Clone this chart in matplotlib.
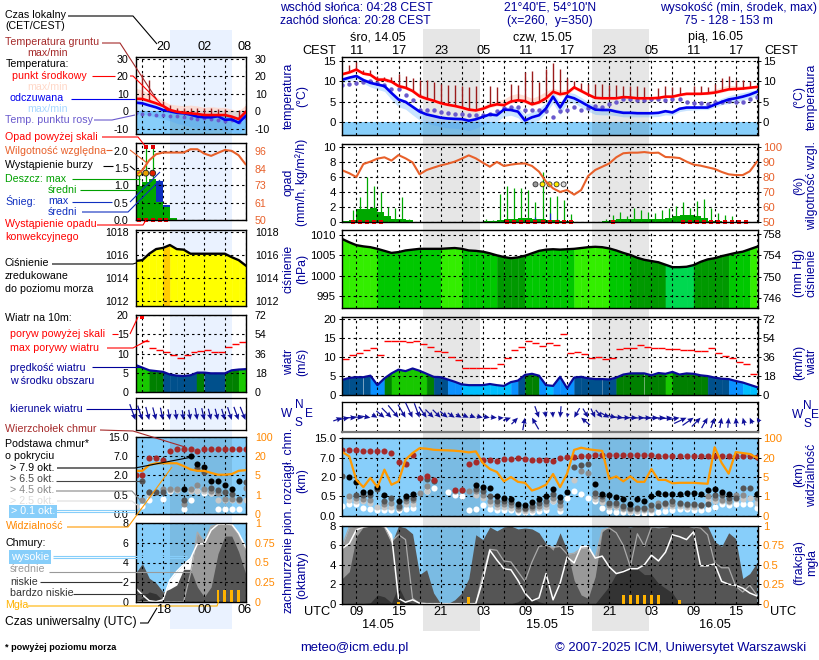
"""Meteogram ICM (UM 4 km) - 60 h panel plus the small legend panel on the left."""
import numpy as np
import matplotlib
matplotlib.use("Agg")
import matplotlib.pyplot as plt
from matplotlib.patches import Rectangle

plt.rcParams["font.family"] = ["Liberation Sans", "DejaVu Sans"]
plt.rcParams["font.size"] = 8.7

nan = np.nan
W, H = 820, 660

# ---- main panel, hourly 07 UTC 14.05 ... 18 UTC 16.05 ----
hours = np.arange(7, 67)
night_start = [18.5, 42.5]
night_end = [26.6, 50.6]

temp_mid = [11.75, 12.2, 12.9, 11.9, 11.6, 10.4, 10.4, 9.9, 8.8, 8.4, 7.6, 6.3, 5.7, 5.2, 4.6, 4.2, 3.9, 3.5, 3.0, 2.8,
            3.2, 3.9, 4.3, 4.1, 5.0, 5.3, 5.1, 4.3, 4.8, 5.8, 7.4, 6.8, 7.1, 8.5, 7.6, 6.7, 5.9, 5.8, 5.8, 5.8,
            6.1, 6.0, 5.8, 5.8, 5.8, 5.9, 6.2, 6.2, 6.6, 6.9, 6.9, 6.9, 7.0, 7.2, 7.6, 8.0, 8.1, 8.2, 8.4, 8.6]
temp_high = [12, 12.5, 13, 12.3, 12, 11, 11, 10.4, 9.3, 8.9, 8.2, 7, 6.3, 5.6, 5, 4.6, 4.3, 3.9, 3.4, 3.4,
             3.9, 4.8, 5.2, 5.6, 6.6, 7, 6.5, 5.8, 6.5, 7.5, 8.3, 7.8, 8, 8.8, 8.2, 7.2, 6.2, 6, 6, 6,
             6.3, 6.2, 6, 6, 6, 6.1, 6.4, 6.4, 6.8, 7.1, 7.2, 7.3, 7.6, 8, 8.6, 9, 8.9, 8.8, 8.8, 8.9]
temp_low = [11.4, 11.9, 12.4, 11.6, 11.2, 10, 9.9, 9.5, 8.4, 8, 7.2, 5.9, 5.3, 4.8, 4.2, 3.8, 3.5, 3.1, 2.6, 2.4,
            2.8, 3.5, 3.9, 3.8, 4.6, 4.9, 4.6, 3.9, 4.4, 4.9, 6.8, 6.3, 6.6, 8, 7.2, 6.3, 5.6, 5.5, 5.5, 5.5,
            5.8, 5.7, 5.5, 5.5, 5.5, 5.6, 5.9, 5.9, 6.3, 6.6, 6.6, 6.6, 6.7, 6.9, 7.2, 7.7, 7.8, 7.9, 8.1, 8.3]
feel_mid = [10.4, 10.9, 11.3, 10.3, 9.6, 9.2, 8.8, 7.1, 5.5, 4.9, 3.7, 2.5, 1.8, 1.4, 1.0, 0.8, 0.7, 0.65, 0.25, 0.6,
            1.2, 1.8, 1.6, 3.0, 2.9, 2.5, 0.3, 1.1, 1.6, 3.3, 6.2, 3.5, 6.3, 5.8, 4.9, 3.9, 3.0, 2.9, 2.9, 2.5,
            2.2, 2.2, 2.1, 2.1, 2.1, 2.2, 2.6, 2.3, 3.2, 3.5, 3.5, 3.5, 3.5, 4.2, 4.9, 5.5, 5.8, 6.2, 6.7, 7.4]
feel_high = [10.8, 11.3, 11.7, 10.8, 10.1, 9.7, 9.3, 7.6, 6, 5.4, 4.2, 3, 2.3, 1.9, 1.5, 1.3, 1.2, 1.1, .7, 1,
             1.6, 2.3, 2.3, 3.6, 3.7, 3.6, 1.8, 2.4, 3.2, 4.8, 7.4, 4.8, 7.3, 7, 6, 4.9, 3.9, 3.5, 3.4, 3.1,
             2.8, 2.7, 2.6, 2.5, 2.5, 2.6, 3, 2.7, 3.6, 3.9, 4, 4.1, 4.2, 5, 5.8, 6.4, 6.9, 7.2, 7.6, 7.9]
feel_low = [9.6, 10.2, 10.5, 9.5, 8.6, 8, 7.5, 5.5, 3.7, 3.1, 1.7, .4, -.4, -.8, -1.2, -1.5, -1.6, -1.8, -2.2, -1.6,
            -.8, -.2, 0, 1.3, 1.6, 1, -.8, -.2, .4, 2.3, 4.6, 1.8, 4.6, 4.6, 3.6, 2.6, 1.8, 1.7, 1.7, 1.5,
            1.2, 1.2, 1.2, 1.2, 1.2, 1.3, 1.7, 1.6, 2.5, 2.8, 2.9, 3, 3, 3.6, 4.2, 4.5, 4.9, 5.3, 5.8, 6.4]
dew_point = [9.2, 9.3, 9.5, 9.9, 10, 9.5, 9.2, 8.2, 8, 6.6, 5.4, 3, 3, 2.8, 2.3, 2.1, 2, 2, 1.6, 1.6,
             1.6, 2, 2.6, 3.3, 3.7, 3.7, 3, 3, 3, 2.7, 1.1, 2.6, 3, 3.7, 2.9, 3.3, 3.9, 3.7, 4.3, 4.8,
             5.5, 5.5, 5.4, 5.4, 5.5, 5.5, 5.3, 5.5, 5.6, 4.8, 4.7, 4.6, 4.4, 4.8, 4.9, 5.1, 4.8, 4.8, 5.7, 6.2]
soil_max = [nan, 13.9, 14.7, 12.9, 12.7, 11.4, 11, 11, 11.7, 11.3, 10.9, 10.3, 10.2, 9.9, 9.4, 9.2, 9, 8.8, 8.5, 8.8,
            nan, 8.9, 8.7, nan, 9.3, 9.2, 12.3, 12.5, 9.9, 13.1, 14.5, 13, 10.9, 10, 9.6, 9.4, 9.3, 9.3, 9, 9,
            8.9, 8.9, 8.8, 8.6, nan, 8.3, 8.8, 8.5, 8.5, nan, 8.8, 8.8, 8.6, 9.3, 10.9, 11.3, 10.3, 10.4, 10.1, 8.5]

rel_hum = [84.4, 82.4, 79.9, 88.6, 90.2, 92.2, 93.1, 90.9, 94.6, 92.4, 89.7, 81.7, 84.6, 86.2, 87.7, 88.8, 90.2, 92.2, 94.4, 92.4,
           89.5, 86.8, 90, 87.3, 88.2, 88.8, 89, 87.3, 83.5, 76.8, 72.3, 69.9, 71.2, 68.1, 71.2, 80.6, 84.6, 86.8, 89, 93.1,
           95.8, 96.2, 96.2, 96.6, 96, 96.2, 93.3, 93.1, 92.6, 90.2, 88.2, 87.5, 86.4, 85.3, 83.3, 81.7, 81.2, 81.2, 83.7, 90]
rain_max = [0, 1.5, 3.3, 6.0, 4.8, 4.0, 2.0, 1.8, 3.3, .4, 0, 0, 0, 0, 0, 0, 0, 0, 0, 0,
            .4, .2, 3.7, 4.8, 4.5, 4.5, 4.2, 2.7, 6.6, 3.3, 3.4, 2.9, 1, 0, 0, 0, 0, .3, .9, 1.3,
            .7, 1.8, 1.6, 1.3, 1.1, 1.5, 1.8, 2.1, 2.7, 1.8, 2.8, 3, 1.8, 1.1, .9, .7, 0, 0, 0, 0]
rain_mean = [.1, .2, 1.7, 1.7, 1.85, 1.3, .8, .4, .4, .2, .02, .02, 0, 0, 0, 0, 0, 0, 0, 0,
             .05, .05, .2, .3, .4, .5, .5, .3, .3, .2, .2, .1, .05, 0, 0, 0, 0, .05, .2, .3,
             .3, .3, .4, .4, .3, .4, .5, .8, .9, .9, .7, .5, .05, .05, 0, 0, 0, 0, 0, 0]
snow_hours = [34, 36, 37]
snow_max = [.6, 1.1, .3]
convective_hours = [8, 9, 10, 11, 12, 30, 31, 32, 33, 34, 35, 36, 37, 38, 39, 45,
                    55, 56, 57, 58, 59, 60, 61, 62, 63, 64]
storm_hours = [34, 35, 36, 37, 38]
storm_colors = ["#999999", "#FFEE00", "#FFEE00", "#FFEE00", "#DDDDDD"]

pressure = [1009.0, 1008.2, 1007.5, 1007.2, 1007, 1006.6, 1006.1, 1005.6, 1005.8, 1006.2, 1006.4, 1006.6, 1006.6, 1006.6, 1006.6, 1006.7, 1006.8, 1006.6, 1006.2, 1006.1,
            1005.9, 1005.5, 1005, 1004.6, 1004.3, 1004.5, 1004.9, 1005.5, 1006.1, 1006.4, 1006.5, 1006.4, 1006.5, 1006.6, 1006.8, 1007, 1007.1, 1007, 1006.7, 1006.2,
            1005.6, 1005.1, 1004.4, 1003.9, 1003.6, 1003.3, 1002.7, 1002.1, 1002.1, 1002.2, 1002.6, 1003.4, 1004, 1004.3, 1004.8, 1005.2, 1005.6, 1005.9, 1006.5, 1007.1]
wind = [4.0, 4.5, 4.7, 4.7, 5.1, 2.6, 4.4, 5.7, 6.7, 6.3, 7, 6.4, 5.6, 4.8, 4.7, 4.1, 3.5, 2.8, 2.6, 2.6,
        2.6, 2.9, 2.6, 2.4, 3.4, 3.8, 5.3, 5.6, 5.1, 2.6, 2.4, 4.8, 1.8, 4.6, 4.8, 4.4, 4.2, 4.2, 4.1, 4.6,
        5.4, 5.7, 5.7, 5.7, 5.2, 5.8, 5.6, 6.1, 5.4, 5.7, 5.6, 5.2, 5, 4.6, 4.3, 4.2, 3.7, 3.3, 2.7, 2.1]
gust = [9.4, 10.5, 11, 11.8, 12.3, 10.5, 14.2, 14.2, 14.2, 13.9, 14.2, 13.4, 12.6, 11.7, 11.3, 10, 9.2, 7, 7, 7,
        7, 7, 8.1, 9.7, 11.8, 12.6, 14.2, 13.7, 12.9, 13.7, 13.1, 16, 11, 11.3, 10.7, 9.7, 10, 9.4, 9.7, 12.1,
        12.3, 12.3, 13.1, 12.6, 12.3, 12.3, 12.1, 12.1, 11.8, 11.8, 11.5, 11.5, 12.3, 11, 10.2, 9.7, 8.6, 8.1, 5.5, nan]
wind_dir = [250, 260, 270, 275, 280, 300, 310, 315, 320, 330, 335, 340, 325, 315, 315, 310, 305, 300, 295, 290,
            285, 280, 275, 265, 250, 225, 190, 150, 340, 350, 355, 5, 10, 30, 130, 330, 335, 320, 300, 285,
            275, 270, 270, 268, 268, 268, 268, 265, 260, 245, 235, 225, 210, 200, 190, 185, 175, 165, 155, 145]

cloud_top = [10.3, 10.3, 10.3, 9.8, 9.8, 9.8, 9.8, 9, 5.9, 5.4, 8, 1.9, 2.2, 1.74, nan, nan, .99, .97, 5.4, 6,
             6.3, 6.4, 6.1, 6.7, 6.7, 6.9, 6.7, 6.5, 6.4, 6.4, 6.1, 7, 7.3, 7.3, 7.5, 7.8, 8.1, 8, 8.1, 8.1,
             8.1, 8.1, 8.1, 8.1, 8.1, 7.8, 7.5, 7.5, 7.5, 7.5, 7.5, 7.5, 7.5, 7.5, 7.5, 7.5, 7.8, 7.8, 7.6, 7.4]
base_79 = [nan, 2.1, 1.64, .81, .81, 1.2, .63, nan, .37, .55, .68, nan, nan, nan, nan, nan, nan, nan, nan, 1.4,
           1.22, 1.12, .5, .45, .44, .31, .28, .36, .43, .5, 1.07, .48, .84, nan, nan, nan, 1.48, .68, .6, .49,
           .42, .31, .42, .39, .55, .78, .68, .66, .68, .78, .76, .7, .97, 1.07, .86, .68, nan, nan, nan, .7]
base_65 = [2.3, nan, .63, .58, .58, 1.07, .38, .47, .25, .46, .47, nan, 1.85, 1.7, nan, nan, nan, nan, nan, 1.1,
           .89, .5, .37, .39, .36, .24, .21, .25, .32, .39, .68, .37, nan, 4.5, 5.2, 5.4, .73, .55, .34, .34,
           .26, .19, .19, .2, .28, .25, .32, .37, .32, .31, .31, .28, .31, .63, .58, .46, .46, 1.12, 1.14, .68]
base_45 = [nan, .55, .46, .44, .41, nan, .3, .32, .19, .38, .41, .76, 1.28, nan, nan, nan, .94, .99, .89, .94,
           .63, .39, .31, .31, .28, .18, .17, .2, .25, .31, .46, .28, nan, nan, 3.6, 3.0, .5, .43, .28, .27,
           .21, .17, .18, .18, .17, .32, .3, .31, .31, .28, .28, .28, .5, .46, .41, .39, .63, .63, nan, .46]
base_25 = [nan, .41, .39, .37, .34, .22, .22, .22, nan, .31, .31, nan, .94, nan, nan, nan, nan, nan, nan, .63,
           .46, .31, .22, .22, .21, .15, .13, .15, .19, .22, .39, .21, nan, 1.8, nan, nan, .43, .36, .22, .22,
           .17, .13, .13, .15, .15, .25, .25, .24, .24, .22, .22, .24, .41, .39, .37, .36, .43, .43, .46, .34]
base_01 = [.26, .31, .31, .21, .175, .14, .15, .15, .15, .18, .21, nan, .94, 1.17, nan, .84, .63, .55, .15, .17,
           .27, .17, .14, .15, .14, .105, .09, .095, .12, .14, .39, .12, .45, .94, .68, .46, .38, .21, .12, .105,
           .105, .105, .08, .08, .08, .105, .12, .14, .175, .175, .15, .14, .17, .22, .31, .28, .3, .3, .3, .21]
visibility = [43, 25, 4.4, 2.9, 4.8, 2.9, 10.7, 3.4, 4.1, 18.4, 39, 59, 57, 52.5, 51, 50, 48.5, 46, 41.7, 46,
              15.9, 11.2, 8.9, 4.1, 5, 4, 3.8, 2.2, 2.7, 3.4, 7.3, 2.9, 7.6, 52, 61, 55, 51, 48, 4.6, 5.5,
              4.1, 5.5, 4, 4, 11.2, 4.4, 4.4, 3.7, 3.8, 3.8, 3.8, 3.7, 3.6, 63, 15.9, 7.6, 43, 39, 35, 20]

cloud_high = [5.7, 6.2, 7.6, 7.9, 8, 8, 8, 7.1, .55, .15, .4, .05, 0, 0, 0, 0, 0, 0, 0, 0,
              2.4, 5.5, 4.5, 3.6, 3.5, 2.4, 1.1, .3, .6, 3.1, .4, 2.1, 4.8, 4.2, 5.9, 5.9, 4.7, 4.9, 3.8, 3.1,
              3.3, 3.6, 3.6, 4, 5, 4.4, 5.3, 7.1, 6.9, 6.6, 7.4, 3.9, 3.9, 4.1, 2.3, 2, 1.9, 1.6, 1.1, .8]
cloud_mid = [6, 7.9, 8, 8, 8, 8, 7.9, 6.4, 7.1, 6.6, .55, 0, 0, 0, 0, 0, 0, 0, 0, 0,
             3, 5.6, 5.5, 4.4, 4.3, 3.3, 2.3, 4.3, 5.9, 6, 5.8, 5.9, 5.1, 5.2, 5.7, 5.8, 4.7, 7.6, 7.8, 7.3,
             6, 3.8, 7.2, 5.9, 7.9, 7.9, 7.9, 8, 8, 8, 7.9, 7.8, 7.1, 4.2, 3.7, 3.7, 1.8, 1.2, 1.9, .9]
cloud_low = [2.6, 3.3, 6.9, 7.9, 8, 8, 7.9, 6.2, 8, 7.8, 7.2, 3, 3.5, 1.1, 0, 0, .4, 1.1, 2.6, 7.1,
             6.6, 7.9, 7.5, 7.9, 8, 7.7, 7.8, 7.7, 7.3, 6.2, 5.5, 7.3, 5.5, 2.4, .9, .55, 2.8, 7.4, 8, 8,
             8, 7.9, 8, 8, 7.9, 7.8, 7.9, 8, 8, 8, 7.8, 8, 8, 6.4, 5.9, 7.3, 6.7, 2.6, 3.1, 4.2]
cloud_very_low = [0, 0, 0, 0, .1, .9, .7, .1, 1.8, .3, 0, 0, 0, 0, 0, 0, 0, 0, 0, 0,
                  0, 0, 0, 0, 0, .2, .7, .6, .2, 0, 0, 0, 0, 0, 0, 0, 0, .9, 1.8, 3.1,
                  3.6, 3.6, 3.6, 3, 3, 2.1, 1.6, 1.1, 0, 0, 0, 0, 0, 0, 0, 0, 0, 0, 0, 0]
fog_hours = [15, 25, 47, 48, 49, 50, 51, 52, 55]
fog_frac = [.02, .08, .11, .11, .11, .11, .11, .11, .05]

# ---- small panel, hourly 14 UTC ... 06 UTC ----
s_hours = np.arange(14, 31)
s_night = (19.06, 28.0)
s_temp_mid = [7, 6.9, 5.7, 4.4, 2.9, .6, -.4, -1, -1.3, -1.7, -2.3, -2.3, -2.3, -2.3, -3.2, -4.6, -.6]
s_temp_high = [13, 12, 10, 8.2, 5.9, 4, 3.4, 3, 3.4, 2.9, 2.1, 2.5, 2.1, 2.1, 1, 0, 3.4]
s_feel_mid = [4.8, 4.4, 3.2, 2.1, .6, -.2, -1, -1.3, -2.1, -3.2, -3.6, -3.6, -3, -5, -4.8, -6.7, -2.9]
s_feel_low = [-1, -1.5, -2.5, -3.5, -4.5, -5.5, -7, -8, -9, -10, -11, -11, -10, -12, -12, -13, -9]
s_dew = [-1, -1.5, -1.5, -2, -2.5, -3, -3, -3.5, -4, -4.5, -4, -4.5, -5, -5.5, -5, -6, -4]
s_soil_max = [nan, 21, 18, nan, 6, 3.5, 2, 2, 2, 1.5, 1.5, 2, 1, 1, nan, .5, 3]
s_rel_hum = [79.7, 83, 89.6, 93.6, 94.7, 94.7, 94.7, 94.7, 96.9, 96.9, 94, 92.5, 94.5, 96.4, 95.8, 92.9, 87]
s_rain_max = [1.37, 2.1, 2.1, 0, 0, 0, 0, 0, 0, 0, 0, 0, 0, 0, 0, 0, 0]
s_rain_mean = [.97, 1.1, 1.18, .53, .38, .05, 0, 0, 0, 0, 0, 0, 0, 0, 0, 0, 0]
s_snow_top = [0, 0, 0, 1.12, .43, 0, 0, 0, 0, 0, 0, 0, 0, 0, 0, 0, 0]
s_over_scale = [15, 16]
s_convective = [14, 15, 16, 17, 18]
s_storm_hours = [14, 15, 16]
s_storm_colors = ["#FFEE00", "#E8A000", "#E02000"]
s_pressure = [1015.47, 1015.55, 1016.1, 1016.5, 1016.6, 1016.85, 1016.5, 1016.45, 1016.1, 1016.1, 1016.1, 1016.1, 1016.1, 1016.1, 1015.8, 1015.55, 1015.1]
s_wind = [7, 6.3, 5.6, 5.4, 5.2, 4.5, 4.2, 4.1, 4.3, 5, 5, 4.8, 4.8, 4.8, 5.6, 5.8, 5.9]
s_gust = [nan, 13.4, 11.5, 11, 10.4, 9.5, 8.7, 9.7, 10.4, 10.6, 10.8, 10.4, 10.4, 11.6, 12.6, 13, nan]
s_wind_dir = [340, 342, 345, 345, 348, 350, 352, 352, 350, 350, 348, 346, 346, 344, 342, 340, 338]
s_cloud_top = [2, 2, 6.4, 6.4, 6, 8.9, 9.8, 9.8, 9.8, 8.9, 9.8, 9.8, 9.8, 9.8, 9.8, 9.8, 9.8]
s_base_79 = [nan, nan, nan, nan, nan, nan, nan, .93, 7.1, 4.9, 4.05, 1.55, 1.55, 1.25, .93, 1.55, nan]
s_base_65 = [nan, 1.55, .7, .7, .7, nan, nan, .37, nan, 3.8, 2.9, 1, .87, .7, .55, .4, 1.5]
s_base_45 = [nan, .37, .7, nan, .93, .93, .93, .26, .93, 1.25, .93, .8, .62, .4, .4, .37, 1]
s_base_25 = [.2, nan, .5, nan, nan, .87, .87, nan, .75, .8, .75, .62, .37, .37, .37, .34, .35]
s_base_01 = [nan, .21, .37, nan, .38, .8, nan, .12, .37, .75, .62, .62, .12, .12, .12, .12, nan]
s_visibility = [8.5, 8.5, 13, 14.4, 14.4, 14.4, 14.4, 12.2, 9.6, 8.5, 8.5, 6.9, 5.5, 5.5, 6, 8.5, 9]
s_cloud_high = [1.4, .7, .1, 0, .2, 2.2, 3.1, 3.8, 4.4, 5.9, 5.9, 7.3, 7.9, 7.9, 7.9, 7, 5.6]
s_cloud_mid = [0, 0, 0, 0, 0, 0, 0, 0, 2.9, 7.1, 6.1, 7.7, 7.9, 8, 7.8, 6.8, 5.3]
s_cloud_low = [2.9, 3.9, 2.4, 1.9, 1, 1.3, 1.7, 3.3, 3.3, 1.5, .5, 1.5, 4.9, 6.7, 6.7, 5.1, 2.9]
s_cloud_very_low = [0, .4, 1, .8, .1, 0, 0, 0, 0, 0, 0, 0, 0, 0, 0, 0, 0]
s_fog_hours = [26, 27, 28, 29]
s_fog_frac = [.15, .15, .15, .15]

# piecewise axis of the cloud base panel: equally spaced ticks
km_ticks = [0, .5, 2, 7, 15]
vis_ticks = [0, 1, 5, 20, 100]
tick_pos = [0, 1, 2, 3, 4]

# ---- colours ----
NAVY = "#000099"
ORANGE = "#FF8800"
RH_COL = "#E8602A"
SKY = "#87CEFA"
DARKRED = "#A52A2A"
DEW = "#6A5ACD"
GREEN = "#00A800"
PRESS_BINS = [1002.7, 1005.1, 1006.65]
PRESS_COLS = ["#00D850", "#009900", "#00C800", "#33EE00"]
WIND_BINS = [3, 4, 4.9, 5.8]
WIND_COLS = ["#00BFFF", "#0A90FF", "#00508C", "#008000", "#18C800"]
SMALL_TICK = 7.7
MAIN_TICK = 8.2
LEGEND_SIZE = 7.7
TITLE_SIZE = 8.8

fig = plt.figure(figsize=(W / 100, H / 100), dpi=100)

# page layer: pixel coordinates, y down
back = fig.add_axes([0, 0, 1, 1], zorder=0)
back.set_xlim(0, W)
back.set_ylim(H, 0)
back.axis("off")
back.add_patch(Rectangle((170.3, 30), 61.4, 599, color="#EAF2FF", lw=0))
back.add_patch(Rectangle((423.3, 29), 56.7, 602, color="#E6E6E6", lw=0))
back.add_patch(Rectangle((592, 29), 57, 602, color="#E6E6E6", lw=0))


def panel(left, top, right, bottom, xlim):
    ax = fig.add_axes([left / W, 1 - bottom / H, (right - left) / W, (bottom - top) / H], zorder=2)
    ax.set_facecolor("none")
    ax.set_xlim(*xlim)
    for sp in ax.spines.values():
        sp.set_linewidth(0.95)
    return ax


def dress(ax, xticks, yticks, ylabels, small):
    ax.set_xticks(xticks)
    ax.set_yticks(yticks)
    ax.set_yticklabels(ylabels)
    ax.minorticks_off()
    ax.tick_params(axis="x", length=0, labelbottom=False)
    if small:
        ax.tick_params(axis="y", length=0, pad=5, labelsize=SMALL_TICK)
    else:
        ax.tick_params(axis="y", length=2.2, width=0.7, pad=2.5, labelsize=MAIN_TICK)
    ax.grid(True, color="black", lw=0.8, ls=(0, (2.2, 2.8)))
    ax.set_axisbelow(False)


def twin(ax, ylim, yticks, ylabels, color, small):
    ax2 = ax.twinx()
    ax2.set_ylim(*ylim)
    ax2.set_yticks(yticks)
    ax2.set_yticklabels(ylabels)
    ax2.minorticks_off()
    if small:
        ax2.tick_params(axis="y", length=0, pad=6.8, labelcolor=color, labelsize=SMALL_TICK)
    else:
        ax2.tick_params(axis="y", length=2.2, width=0.7, pad=1.5, labelcolor=color, labelsize=MAIN_TICK)
    return ax2


def banded_fill(ax, x, y, floor, bins, cols):
    # one colour per hour, picked from the value of that hour
    for i in range(len(x) - 1):
        c = cols[np.searchsorted(bins, (y[i] + y[i + 1]) / 2)]
        ax.fill_between(x[i:i + 2], y[i:i + 2], floor, color=c, lw=0.3, zorder=1)


def draw_temp(ax, x, mid, feel, dew, soil, high, feel_hi, low, feel_lo, nights, ms):
    bottom = ax.get_ylim()[0]
    ax.fill_between([x[0] - 1, x[-1] + 1], bottom, 0, color=SKY, lw=0, zorder=0.5)
    for a, b in nights:
        ax.fill_between([a, b], bottom, 0, color="black", alpha=0.09, lw=0, zorder=0.6)
    ax.fill_between(x, high, low, color="#FFD5C8", alpha=0.75, lw=0, zorder=0.8)
    ax.fill_between(x, feel_hi, feel_lo, color="#4DA6FF", alpha=0.3, lw=0, zorder=0.9)
    ax.vlines(x, mid, soil, color="#9B1C1C", lw=1.0, zorder=3)
    ax.plot(x, dew, "o", ms=ms, color=DEW, mew=0, zorder=3.2)
    ax.plot(x, feel, color="#0000EE", lw=1.9, zorder=4)
    ax.plot(x, mid, color="#FF0000", lw=1.9, zorder=4.2)


def draw_dir(ax, x, direction, speed, px_per_hour, centre):
    rad = np.radians(direction)
    length = 2.4 * np.asarray(speed)
    u = -length * np.sin(rad) / px_per_hour
    v = -length * np.cos(rad)
    ax.quiver(x, np.full(len(x), centre), u, v, angles="xy", scale_units="xy", scale=1, pivot="tip",
              units="dots", width=1.2, headwidth=4.5, headlength=5, headaxislength=4.5, minlength=0,
              color="#10109A", clip_on=False, zorder=4)


def draw_base(ax, x, top, b79, b65, b45, b25, b01, nights, ms):
    ax.set_facecolor(SKY)
    for a, b in nights:
        ax.axvspan(a, b, color="black", alpha=0.09, lw=0, zorder=0.6)
    ax.plot(x, b01, "o", ms=ms, color="white", mew=0, zorder=5)
    ax.plot(x, b25, "o", ms=ms, color="#C8C8C8", mew=0, zorder=5.1)
    ax.plot(x, b45, "o", ms=ms, color="#8C8C8C", mew=0, zorder=5.2)
    ax.plot(x, b65, "o", ms=ms, color="#555555", mew=0, zorder=5.3)
    ax.plot(x, b79, "o", ms=ms, color="black", mew=0, zorder=5.4)
    ax.plot(x, top, "o", ms=ms, color=DARKRED, mew=0, zorder=5.5)


def draw_cloud(ax, x, high, mid, low, very_low, nights):
    ax.set_facecolor(SKY)
    for a, b in nights:
        ax.axvspan(a, b, color="black", alpha=0.09, lw=0, zorder=0.6)
    ax.fill_between(x, high, 0, color="white", lw=0, zorder=1)
    ax.fill_between(x, mid, 0, color="#999999", lw=0, zorder=1.1)
    ax.fill_between(x, low, 0, color="#555555", lw=0, zorder=1.2)
    ax.fill_between(x, very_low, 0, color="#333333", lw=0, zorder=1.3)
    ax.plot(x, mid, color="#AAAAAA", lw=0.9, zorder=2)
    ax.plot(x, high, color="white", lw=1.1, zorder=2.1)


def km_fwd(v):
    return np.interp(v, km_ticks, tick_pos)


def km_inv(p):
    return np.interp(p, tick_pos, km_ticks)


def vis_fwd(v):
    return np.interp(v, vis_ticks, tick_pos)


def vis_inv(p):
    return np.interp(p, tick_pos, vis_ticks)


main_lim = (7, 66.13)
main_grid = np.arange(9, 67, 3)
small_lim = (14, 30)
small_grid = np.arange(15, 31, 3)
nights_main = list(zip(night_start, night_end))
nights_small = [s_night]

# ---- main panels ----
ax = panel(342.3, 57, 757.7, 135, main_lim)
ax.set_ylim(-3.28, 16)
dress(ax, main_grid, [0, 5, 10, 15], ["0", "5", "10", "15"], False)
draw_temp(ax, hours, temp_mid, feel_mid, dew_point, soil_max, temp_high, feel_high, temp_low, feel_low, nights_main, 3.2)
twin(ax, ax.get_ylim(), [0, 5, 10, 15], ["0", "5", "10", "15"], "black", False)

ax = panel(342.3, 144.3, 757.7, 221.7, main_lim)
ax.set_ylim(0, 10.36)
dress(ax, main_grid, [0, 2, 4, 6, 8, 10], ["0", "2", "4", "6", "8", "10"], False)
ax.bar(hours + 0.5, rain_mean, width=1, color=GREEN, lw=0, zorder=1)
ax.vlines(hours + 0.5, 0, rain_max, color=GREEN, lw=0.9, zorder=3)
ax.vlines(np.array(snow_hours) + 0.5, 0, snow_max, color="#1030C0", lw=0.9, zorder=3.1)
ax.plot(np.array(convective_hours) + 0.5, np.zeros(len(convective_hours)), "s", ms=2.6, color="#DD0000", mew=0, clip_on=False, zorder=6)
ax.scatter(np.array(storm_hours) + 0.5, np.full(len(storm_hours), 5.0), s=13, c=storm_colors, edgecolors="#333333", linewidths=0.6, zorder=6)
ax2 = twin(ax, (50, 101.8), [50, 60, 70, 80, 90, 100], ["50", "60", "70", "80", "90", "100"], RH_COL, False)
ax2.plot(hours, rel_hum, color=RH_COL, lw=1.5)

ax = panel(342.3, 230.3, 757.7, 308.3, main_lim)
ax.set_ylim(992, 1011.15)
dress(ax, main_grid, [995, 1000, 1005, 1010], ["995", "1000", "1005", "1010"], False)
banded_fill(ax, hours, pressure, 992, PRESS_BINS, PRESS_COLS)
ax.plot(hours, pressure, color="black", lw=1.7, zorder=4)
twin(ax, (744.1, 758.7), [746, 750, 754, 758], ["746", "750", "754", "758"], "black", False)

ax = panel(342.3, 317, 757.7, 395, main_lim)
ax.set_ylim(0, 20.6)
dress(ax, main_grid, [0, 5, 10, 15, 20], ["0", "5", "10", "15", "20"], False)
banded_fill(ax, hours, wind, 0, WIND_BINS, WIND_COLS)
ax.plot(hours, wind, color="#0A0A99", lw=1.6, zorder=4)
ax.hlines(gust, hours, hours + 1, color="red", lw=1.0, zorder=4)
twin(ax, (0, 74.16), [0, 18, 36, 54, 72], ["0", "18", "36", "54", "72"], "black", False)

ax = panel(342.3, 401.7, 757.7, 431.7, main_lim)
ax.set_ylim(-15, 15)
ax.set_xticks(main_grid)
ax.set_yticks([])
ax.tick_params(axis="x", length=0, labelbottom=False)
ax.grid(True, axis="x", color="black", lw=0.8, ls=(0, (2.2, 2.8)))
ax.spines["bottom"].set_color("#777777")
ax.spines["bottom"].set_linewidth(1.6)
draw_dir(ax, hours, wind_dir, wind, 7.025, -1)

ax = panel(342.3, 438.3, 757.7, 515.7, main_lim)
ax.set_yscale("function", functions=(km_fwd, km_inv))
ax.set_ylim(0, 15)
dress(ax, main_grid, km_ticks, ["0.0", "0.5", "2.0", "7.0", "15.0"], False)
draw_base(ax, hours, cloud_top, base_79, base_65, base_45, base_25, base_01, nights_main, 4.4)
ax2 = ax.twinx()
ax2.set_yscale("function", functions=(vis_fwd, vis_inv))
ax2.set_ylim(0, 100)
ax2.set_yticks(vis_ticks)
ax2.set_yticklabels(["0", "1", "5", "20", "100"])
ax2.minorticks_off()
ax2.tick_params(axis="y", length=2.2, width=0.7, pad=1.5, labelcolor=ORANGE, labelsize=MAIN_TICK)
ax2.plot(hours, visibility, color="#FF9900", lw=1.6)

ax = panel(342.3, 526, 757.7, 603.7, main_lim)
ax.set_ylim(0, 8)
dress(ax, main_grid, [0, 2, 4, 6, 8], ["0", "2", "4", "6", "8"], False)
draw_cloud(ax, hours, cloud_high, cloud_mid, cloud_low, cloud_very_low, nights_main)
ax2 = twin(ax, (0, 1), [0, .25, .5, .75, 1], ["0", "0.25", "0.5", "0.75", "1"], ORANGE, False)
ax2.bar(fog_hours, fog_frac, width=0.42, color="#FFB300", lw=0)

# ---- small panels ----
ax = panel(135.5, 57.3, 245.5, 134.3, small_lim)
ax.set_ylim(-13.3, 30.7)
dress(ax, small_grid, [-10, 0, 10, 20, 30], ["-10", "0", "10", "20", "30"], True)
draw_temp(ax, s_hours, s_temp_mid, s_feel_mid, s_dew, s_soil_max, s_temp_high, s_temp_mid, s_temp_mid, s_feel_low, nights_small, 2.8)
twin(ax, ax.get_ylim(), [-10, 0, 10, 20, 30], ["-10", "0", "10", "20", "30"], "black", True)

ax = panel(135.5, 143.3, 245.5, 220, small_lim)
ax.set_ylim(0, 2.21)
dress(ax, small_grid, [0, .5, 1, 1.5, 2], ["0.0", "0.5", "1.0", "1.5", "2.0"], True)
ax.bar(s_hours + 0.5, s_snow_top, width=1, color="#1030C0", lw=0, zorder=0.9)
ax.bar(s_hours + 0.5, s_rain_mean, width=1, color=GREEN, lw=0, zorder=1)
ax.vlines(s_hours + 0.5, 0, s_rain_max, color=GREEN, lw=0.9, zorder=3)
ax.plot(np.array(s_over_scale) + 0.5, np.full(len(s_over_scale), 2.1), "s", ms=3, color="#DD0000", mew=0, zorder=6)
ax.plot(np.array(s_convective) + 0.5, np.zeros(len(s_convective)), "s", ms=2.4, color="#DD0000", mew=0, clip_on=False, zorder=6)
ax.scatter(np.array(s_storm_hours) + 0.5, np.full(len(s_storm_hours), 1.35), s=18, c=s_storm_colors, edgecolors="#222222", linewidths=0.6, zorder=6)
ax2 = twin(ax, (50, 100.83), [50, 61, 73, 84, 96], ["50", "61", "73", "84", "96"], RH_COL, True)
ax2.plot(s_hours, s_rel_hum, color=RH_COL, lw=1.5)

ax = panel(135.5, 229.7, 245.5, 306.3, small_lim)
ax.set_ylim(1011.57, 1018.17)
dress(ax, small_grid, [1012, 1014, 1016, 1018], ["1012", "1014", "1016", "1018"], True)
banded_fill(ax, s_hours, s_pressure, 1011.57, [1016.7], ["#FFFF00", "#FFCC00"])
ax.plot(s_hours, s_pressure, color="black", lw=1.7, zorder=4)
twin(ax, ax.get_ylim(), [1012, 1014, 1016, 1018], ["1012", "1014", "1016", "1018"], "black", True)

ax = panel(135.5, 315.3, 245.5, 391.7, small_lim)
ax.set_ylim(0, 20)
dress(ax, small_grid, [0, 5, 10, 15, 20], ["0", "5", "10", "15", "20"], True)
banded_fill(ax, s_hours, s_wind, 0, WIND_BINS, WIND_COLS)
ax.plot(s_hours, s_wind, color="#0A0A99", lw=1.6, zorder=4)
ax.hlines(s_gust, s_hours, s_hours + 1, color="red", lw=1.0, zorder=4)
ax.plot([15.0], [19.6], "s", ms=2.6, color="red", mew=0, zorder=6)
twin(ax, (0, 72), [0, 18, 36, 54, 72], ["0", "18", "36", "54", "72"], "black", True)

ax = panel(135.5, 398.3, 245.5, 430, small_lim)
ax.set_ylim(-15.85, 15.85)
ax.set_xticks(small_grid)
ax.set_yticks([])
ax.tick_params(axis="x", length=0, labelbottom=False)
ax.grid(True, axis="x", color="black", lw=0.8, ls=(0, (2.2, 2.8)))
draw_dir(ax, s_hours, s_wind_dir, s_wind, 6.875, -5.8)

ax = panel(135.5, 436.7, 245.5, 514, small_lim)
ax.set_yscale("function", functions=(km_fwd, km_inv))
ax.set_ylim(0, 15)
dress(ax, small_grid, km_ticks, ["0.0", "0.5", "2.0", "7.0", "15.0"], True)
draw_base(ax, s_hours, s_cloud_top, s_base_79, s_base_65, s_base_45, s_base_25, s_base_01, nights_small, 4.4)
ax2 = ax.twinx()
ax2.set_yscale("function", functions=(vis_fwd, vis_inv))
ax2.set_ylim(0, 100)
ax2.set_yticks(vis_ticks)
ax2.set_yticklabels(["0", "1", "5", "20", "100"])
ax2.minorticks_off()
ax2.tick_params(axis="y", length=0, pad=6.8, labelcolor=ORANGE, labelsize=SMALL_TICK)
ax2.plot(s_hours, s_visibility, color="#FF9900", lw=1.6)

ax = panel(135.5, 523.3, 245.5, 601.7, small_lim)
ax.set_ylim(0, 8)
dress(ax, small_grid, [0, 2, 4, 6, 8], ["0", "2", "4", "6", "8"], True)
draw_cloud(ax, s_hours, s_cloud_high, s_cloud_mid, s_cloud_low, s_cloud_very_low, nights_small)
ax2 = twin(ax, (0, 1), [0, .25, .5, .75, 1], ["0", "0.25", "0.5", "0.75", "1"], ORANGE, True)
ax2.bar(s_fog_hours, s_fog_frac, width=0.42, color="#FFB300", lw=0)

# ---- text and legend callouts, pixel coordinates ----
page = fig.add_axes([0, 0, 1, 1], zorder=10)
page.set_xlim(0, W)
page.set_ylim(H, 0)
page.axis("off")
page.patch.set_alpha(0)

callouts = [
    ([(68, 16), (133, 16), (157, 44)], "black"),
    ([(102, 43), (120, 43), (157, 100)], DARKRED),
    ([(92, 76), (115, 76)], "red"),
    ([(130, 76), (133, 76), (168, 111)], "red"),
    ([(71, 99), (135, 99)], "#0000EE"),
    ([(94, 120), (112, 120), (135, 115)], DEW),
    ([(102, 137), (138, 137), (146, 147)], "red"),
    ([(106, 150), (112, 150)], RH_COL),
    ([(130, 150), (147, 163)], RH_COL),
    ([(103, 166), (113, 166)], "black"),
    ([(130, 166), (135, 170)], "black"),
    ([(72, 179), (140, 179)], "#00A000"),
    ([(80, 190), (147, 190)], "#00A000"),
    ([(72, 202), (112, 202)], "#1030C0"),
    ([(130, 202), (160, 172)], "#1030C0"),
    ([(82, 212), (128, 212), (160, 180)], "#1030C0"),
    ([(97, 225), (143, 225), (146, 220)], "red"),
    ([(52, 264), (133, 264), (136, 263)], "black"),
    ([(112, 334), (118, 334)], "red"),
    ([(130, 334), (138, 317)], "red"),
    ([(107, 348), (133, 348), (148, 340)], "red"),
    ([(92, 367), (143, 367)], NAVY),
    ([(86, 409), (140, 409)], NAVY),
    ([(100, 430), (133, 431), (185, 447)], DARKRED),
    ([(57, 468), (135, 468), (192, 457)], "black"),
    ([(56, 481), (143, 481)], "#444444"),
    ([(56, 491), (132, 491), (140, 500)], "#888888"),
    ([(57, 501), (132, 501), (137, 505)], "#DDDDDD"),
    ([(56, 510), (135, 510)], SKY),
    ([(56, 512), (135, 512)], SKY),
    ([(67, 527), (128, 527), (172, 467)], "#FF9900"),
    ([(53, 556), (187, 556)], SKY),
    ([(53, 558), (187, 558)], SKY),
    ([(49, 572), (193, 572)], "#999999"),
    ([(40, 582), (122, 582)], "#333333"),
    ([(130, 582), (135, 582)], "#333333"),
    ([(73, 594), (150, 594)], "#333333"),
    ([(28, 606), (217, 606), (219, 600)], "#FFB300"),
    ([(140, 623), (148, 623), (157, 608)], "black"),
]
for pts, col in callouts:
    xs, ys = zip(*pts)
    page.plot(xs, ys, color=col, lw=0.8, solid_capstyle="butt")


def txt(x, y, s, color="black", ha="left", **kw):
    page.text(x, y, s, color=color, ha=ha, va="center", **kw)


legend_text = [
    (5.5, 15, "Czas lokalny", "black"), (5.5, 26, "(CET/CEST)", "black"),
    (5.5, 42, "Temperatura gruntu", DARKRED), (27, 53, "max/min", DARKRED),
    (5.5, 64, "Temperatura:", "black"), (12, 76, "punkt środkowy", "red"),
    (27, 87, "max/min", "#FFD8C8"), (10, 98, "odczuwana", "#0000EE"),
    (27, 109, "max/min", "#A8D8FF"), (5.5, 120, "Temp. punktu rosy", DEW),
    (5.5, 137, "Opad powyżej skali", "red"), (5.5, 151, "Wilgotność względna", RH_COL),
    (5.5, 165, "Wystąpienie burzy", "black"), (5.5, 179, "Deszcz: max", "#00A000"),
    (48, 190, "średni", "#00A000"), (5.5, 201, "Śnieg:", "#1030C0"), (48, 201, "max", "#1030C0"),
    (48, 212, "średni", "#1030C0"), (5.5, 224, "Wystąpienie opadu", "red"),
    (5.5, 237, "konwekcyjnego", "red"), (5, 263, "Ciśnienie", "black"),
    (5, 276, "zredukowane", "black"), (5, 289, "do poziomu morza", "black"),
    (5, 318, "Wiatr na 10m:", "black"), (10, 334, "poryw powyżej skali", "red"),
    (10, 348, "max porywy wiatru", "red"), (10, 368, "prędkość wiatru", NAVY),
    (10, 381, "w środku obszaru", NAVY), (10, 409, "kierunek wiatru", NAVY),
    (5.5, 429, "Wierzchołek chmur", DARKRED), (5.5, 444, "Podstawa chmur*", "black"),
    (5.5, 456, "o pokryciu", "black"), (10, 468, "> 7.9 okt.", "black"),
    (10, 479.5, "> 6.5 okt.", "#444444"), (10, 490, "> 4.5 okt.", "#888888"),
    (10, 500.5, "> 2.5 okt.", "#DDDDDD"), (5.5, 526, "Widzialność", ORANGE),
    (5.5, 543, "Chmury:", "black"), (10, 569, "średnie", "#999999"),
    (10, 582, "niskie", "#333333"), (10, 593, "bardzo niskie", "#333333"),
    (5.5, 605, "Mgła", "#FFB300"),
]
for x, y, s, col in legend_text:
    txt(x, y, s, col, fontsize=LEGEND_SIZE)
txt(5.5, 622, "Czas uniwersalny (UTC)", "black")
txt(11, 511.5, "> 0.1 okt.", "white", fontsize=LEGEND_SIZE, bbox=dict(facecolor=SKY, edgecolor="none", pad=1.2))
txt(11, 557, "wysokie", "white", fontsize=LEGEND_SIZE, bbox=dict(facecolor=SKY, edgecolor="none", pad=1.2))
txt(5, 648, "* powyżej poziomu morza", "black", fontsize=6.6, fontweight="bold")

# header
txt(280, 8, "wschód słońca: 04:28 CEST", NAVY)
txt(280, 21, "zachód słońca: 20:28 CEST", NAVY)
txt(550, 8, "21°40'E, 54°10'N", NAVY, ha="center")
txt(550, 21, "(x=260,  y=350)", NAVY, ha="center")
txt(817, 8, "wysokość (min, środek, max)", NAVY, ha="right")
txt(728, 21, "75 - 128 - 153 m", NAVY, ha="center")

# time rows
local_labels = ["11", "17", "23", "05", "11", "17", "23", "05", "11", "17"]
utc_labels = ["09", "15", "21", "03", "09", "15", "21", "03", "09", "15"]
for i, (a, b) in enumerate(zip(local_labels, utc_labels)):
    x = 356.7 + i * 42.15
    txt(x, 51, a, ha="center", fontsize=9.2)
    txt(x, 612, b, ha="center", fontsize=9.2)
for x, s in [(164, "20"), (204.5, "02"), (245, "08")]:
    txt(x, 47, s, ha="center", fontsize=9.2)
for x, s in [(164, "18"), (204.5, "00"), (245, "06")]:
    txt(x, 610, s, ha="center", fontsize=9.2)
txt(336, 51, "CEST", ha="right", fontsize=9.2)
txt(764, 51, "CEST", fontsize=9.2)
txt(330, 612, "UTC", ha="right", fontsize=9.2)
txt(770, 612, "UTC", fontsize=9.2)
for x, s in [(378, "śro, 14.05"), (542, "czw, 15.05"), (716, "pią, 16.05")]:
    txt(x, 37, s, ha="center", fontsize=9.0)
for x, s in [(378, "14.05"), (542, "15.05"), (715, "16.05")]:
    txt(x, 625, s, ha="center", fontsize=9.2)

# rotated axis titles: name, unit, centre y
left_titles = [("temperatura", "(°C)", 96), ("opad", "(mm/h, kg/m²/h)", 182), ("ciśnienie", "(hPa)", 269),
               ("wiatr", "(m/s)", 362), ("pion. rozciągł. chm.", "(km)", 481), ("zachmurzenie", "(oktanty)", 575)]
right_titles = [("temperatura", "(°C)", 97), ("wilgotność wzgl.", "(%)", 185), ("ciśnienie", "(mm Hg)", 273),
                ("wiatr", "(km/h)", 362), ("widzialność", "(km)", 475), ("mgła", "(frakcja)", 563)]
for name, unit, y in left_titles:
    txt(289, y, name, NAVY, ha="center", rotation=90, fontsize=TITLE_SIZE)
    txt(302, y, unit, NAVY, ha="center", rotation=90, fontsize=TITLE_SIZE)
for name, unit, y in right_titles:
    txt(812, y, name, NAVY, ha="center", rotation=90, fontsize=TITLE_SIZE)
    txt(799, y, unit, NAVY, ha="center", rotation=90, fontsize=TITLE_SIZE)

for x, y, s in [(287, 414, "W"), (299, 405, "N"), (298, 423, "S"), (309, 414, "E"),
                (798, 415, "W"), (807, 406, "N"), (807, 424, "S"), (815, 415, "E")]:
    txt(x, y, s, NAVY, ha="center", fontsize=8.6)

txt(300, 648, "meteo@icm.edu.pl", NAVY, fontsize=9.4)
txt(806, 648, "© 2007-2025 ICM, Uniwersytet Warszawski", NAVY, ha="right", fontsize=9.4)

fig.savefig("out.png", dpi=100)
